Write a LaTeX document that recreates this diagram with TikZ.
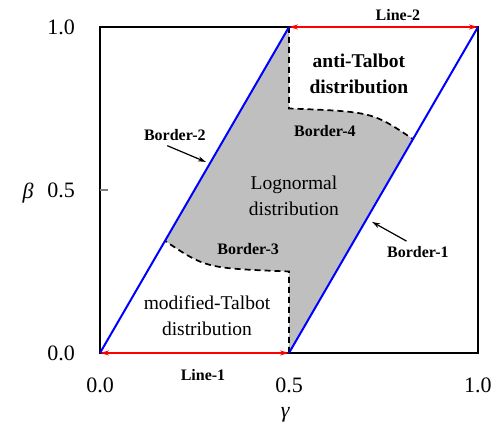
\documentclass[tikz,border=0pt]{standalone}
\usepackage{fontspec}
\setmainfont{Liberation Serif}
\usetikzlibrary{arrows.meta}
\tikzset{region/.style={font=\fontsize{19.5}{26}\selectfont,align=center},
  boldregion/.style={font=\fontsize{19.5}{26}\selectfont\bfseries,align=center},
  tag/.style={font=\fontsize{16}{19}\selectfont\bfseries},
  ticklab/.style={font=\fontsize{22}{26}\selectfont,inner sep=0pt},
  border/.style={draw=blue,line width=2pt},
  sep/.style={draw=black,dashed,dash pattern=on 6pt off 4pt,line width=1.7pt},
  redline/.style={{Stealth[length=9pt,width=5pt]}-{Stealth[length=9pt,width=5pt]},draw=red,line width=1.6pt},
  pointer/.style={-{Stealth[length=8pt,width=5pt]},line width=1.2pt}}

\begin{document}
\begin{tikzpicture}[x=378pt,y=326pt]
  \path[use as bounding box] (-0.2646,-0.2209) rectangle (1.0397,1.0828);
  % corners and border ends
  \coordinate (o) at (0,0);
  \coordinate (m0) at (0.5,0);
  \coordinate (r0) at (1,0);
  \coordinate (t0) at (0,1);
  \coordinate (m1) at (0.5,1);
  \coordinate (r1) at (1,1);
  \coordinate (b3s) at (0.172,0.344);
  \coordinate (b3e) at (0.5,0.25);
  \coordinate (b4s) at (0.5,0.75);
  \coordinate (b4e) at (0.828,0.656);
  % lognormal region
  \fill[gray!50] (b3s) -- (m1) -- (b4s) .. controls (0.72,0.74) .. (b4e)
    -- (m0) -- (b3e) .. controls (0.28,0.26) .. (b3s) -- cycle;
  \draw[line width=1.2pt] (o) rectangle (r1);
  \draw[gray,line width=1.2pt] (0,0.5) -- (0.022,0.5);
  \draw[sep] (m1) -- (b4s) .. controls (0.72,0.74) .. (b4e);
  \draw[sep] (m0) -- (b3e) .. controls (0.28,0.26) .. (b3s);
  \draw[border] (o) -- (m1);
  \draw[border] (m0) -- (r1);
  \draw[redline] (o) -- (m0);
  \draw[redline] (m1) -- (r1);
  % labels
  \node[tag] (l1) at (0.2725,-0.0675) {Line-1};
  \node[tag] (l2) at (0.788,1.037) {Line-2};
  \node[tag] (b2) at (0.198,0.669) {Border-2};
  \node[tag] (b1) at (0.841,0.310) {Border-1};
  \node[tag] (b4) at (0.595,0.681) {Border-4};
  \node[tag] (b3) at (0.392,0.319) {Border-3};
  \coordinate (p2) at (0.280,0.586);
  \coordinate (p1) at (0.720,0.402);
  \draw[pointer] (b2.south) ++(-0.02,-0.005) -- (p2);
  \draw[pointer] (b1.north) ++(-0.03,0.005) -- (p1);
  \node[boldregion] (anti) at (0.685,0.857) {anti-Talbot\\distribution};
  \node[region] (logn) at (0.513,0.482) {Lognormal\\distribution};
  \node[region] (modt) at (0.283,0.113) {modified-Talbot\\distribution};
  % axes
  \foreach \v in {0.0,0.5,1.0}{
    \node[ticklab,anchor=east] (y\v) at (-0.066,\v) {\v};
    \node[ticklab] (x\v) at (\v,-0.1) {\v};
  }
  \node[ticklab,font=\fontsize{22}{26}\selectfont\itshape] (beta) at (-0.19,0.49) {β};
  \node[ticklab,font=\fontsize{22}{26}\selectfont\itshape] (gamma) at (0.49,-0.19) {γ};
\end{tikzpicture}
\end{document}
